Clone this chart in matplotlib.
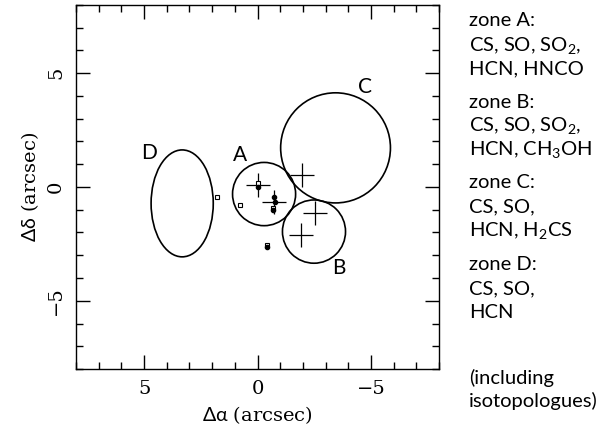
import numpy as np
import matplotlib
matplotlib.use("Agg")
import matplotlib.pyplot as plt
from matplotlib.patches import Circle, Ellipse
from matplotlib.ticker import MultipleLocator

# zones (arcsec offsets)
circ_x = [-0.29, -2.49, -3.44]
circ_y = [-0.31, -1.96, 1.72]
circ_r = [1.39, 1.39, 2.42]
ell_x, ell_y, ell_w, ell_h = 3.32, -0.72, 2.74, 4.7

zone_lab = ["A", "B", "C", "D"]
lab_x = [0.75, -3.6, -4.76, 4.8]
lab_y = [1.41, -3.57, 4.4, 1.5]

# continuum peaks (crosses)
cross_x = [-0.02, -0.73, -1.97, -2.55, -1.9]
cross_y = [0.09, -0.68, 0.53, -1.16, -2.11]

# other sources
sq_x = [0.78, 1.8, 0.0, -0.69, -0.43]
sq_y = [-0.79, -0.43, 0.16, -0.94, -2.55]
dot_x = [0.0, -0.72, -0.79, -0.69, -0.43]
dot_y = [0.0, -0.43, -0.67, -0.99, -2.62]

zone_text = [
    ("zone A:", r"CS, SO, SO$_2$,", "HCN, HNCO"),
    ("zone B:", r"CS, SO, SO$_2$,", r"HCN, CH$_3$OH"),
    ("zone C:", "CS, SO,", r"HCN, H$_2$CS"),
    ("zone D:", "CS, SO,", "HCN"),
]

plt.rcParams['mathtext.fontset'] = 'custom'
plt.rcParams['mathtext.rm'] = 'Lato'
plt.rcParams['mathtext.it'] = 'Lato'
plt.rcParams['mathtext.default'] = 'rm'

fig = plt.figure(figsize=(6.06, 4.37), dpi=100)
ax = fig.add_axes([76/606, 1-369/437, 363/606, 364/437])

for x, y, r in zip(circ_x, circ_y, circ_r):
    ax.add_patch(Circle((x, y), r, fill=False, ec="k", lw=1.2))
ax.add_patch(Ellipse((ell_x, ell_y), ell_w, ell_h, fill=False, ec="k", lw=1.2))

ax.plot(cross_x, cross_y, "+", color="k", ms=17, mew=0.9, ls="none")
ax.plot(sq_x, sq_y, "s", mfc="white", mec="k", ms=3.5, mew=0.8, ls="none")
ax.plot(dot_x, dot_y, "o", color="k", ms=3, ls="none")

for t, x, y in zip(zone_lab, lab_x, lab_y):
    ax.text(x, y, t, family="Lato", fontsize=15, ha="center", va="center")

ax.set_xlim(8, -8)
ax.set_ylim(-8, 8)
ax.xaxis.set_major_locator(MultipleLocator(5))
ax.xaxis.set_minor_locator(MultipleLocator(1))
ax.yaxis.set_major_locator(MultipleLocator(5))
ax.yaxis.set_minor_locator(MultipleLocator(1))
ax.tick_params(which="both", direction="in", top=True, right=True, width=1)
ax.tick_params(which="major", length=10, labelsize=14, pad=8)
ax.tick_params(which="minor", length=5)
for lbl in ax.get_xticklabels() + ax.get_yticklabels():
    lbl.set_family("DejaVu Serif")
for lbl in ax.get_yticklabels():
    lbl.set_rotation(90)
    lbl.set_va("center")
for s in ax.spines.values():
    s.set_linewidth(1)

ax.set_xlabel(r"$\Delta\alpha$ (arcsec)", family="DejaVu Serif", fontsize=14, labelpad=4)
ax.set_ylabel(r"$\Delta\delta$ (arcsec)", family="DejaVu Serif", fontsize=14, labelpad=4)

# zone list on the right
y0 = [21, 102, 183, 265]
for lines, yy in zip(zone_text, y0):
    for i, line in enumerate(lines):
        fig.text(469/606, 1-(yy+24*i)/437, line, family="Lato", fontsize=14.5, va="center", ha="left")
fig.text(469/606, 1-378/437, "(including", family="Lato", fontsize=14.5, va="center")
fig.text(469/606, 1-401/437, "isotopologues)", family="Lato", fontsize=14.5, va="center")

fig.savefig("out.png", dpi=100)
